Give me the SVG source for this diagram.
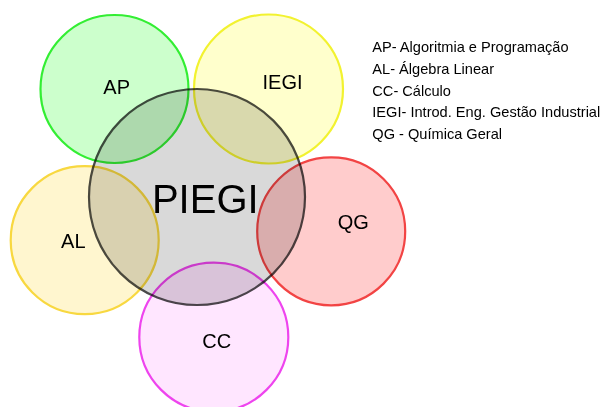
<svg xmlns="http://www.w3.org/2000/svg" width="601" height="407" viewBox="0 0 601 407">
<style>
circle{stroke-width:2.2;mix-blend-mode:multiply}
text{font-family:"Liberation Sans",Arial,sans-serif;fill:#000}
.lbl{font-size:20px;text-anchor:middle}
.leg{font-size:14.6px}
</style>
<rect width="601" height="407" fill="#fff"/>
<g id="PIEGI">
<circle cx="197" cy="197" r="108" fill="#d9d9d9" stroke="#4a4a4a"/>
</g>
<g id="AP">
<circle cx="114.5" cy="89" r="74" fill="#ccffcc" stroke="#33ee33"/>
</g>
<g id="IEGI">
<circle cx="268.5" cy="89" r="74.5" fill="#ffffcc" stroke="#f2f230"/>
</g>
<g id="AL">
<circle cx="84.7" cy="240.2" r="74" fill="#fff6cf" stroke="#f8d840"/>
</g>
<g id="QG">
<circle cx="331.2" cy="231.3" r="74" fill="#ffcccc" stroke="#f24444"/>
</g>
<g id="CC">
<circle cx="213.8" cy="337.2" r="74.5" fill="#ffe6ff" stroke="#ee44ee"/>
</g>
<g id="labels">
<text class="lbl" x="116.7" y="94">AP</text>
<text class="lbl" x="282.5" y="89.3">IEGI</text>
<text class="lbl" x="73.3" y="247.7">AL</text>
<text class="lbl" x="353.3" y="228.7">QG</text>
<text class="lbl" x="216.7" y="347.7">CC</text>
<text x="205.3" y="212.7" style="font-size:40px;text-anchor:middle">PIEGI</text>
</g>
<g id="legend" class="leg">
<text class="leg" x="372.3" y="52.3">AP- Algoritmia e Programação</text>
<text class="leg" x="372.3" y="74">AL- Álgebra Linear</text>
<text class="leg" x="372.3" y="95.7">CC- Cálculo</text>
<text class="leg" x="372.3" y="117.4">IEGI- Introd. Eng. Gestão Industrial</text>
<text class="leg" x="372.3" y="139.1">QG - Química Geral</text>
</g>
<g id="connectors"></g>
</svg>
